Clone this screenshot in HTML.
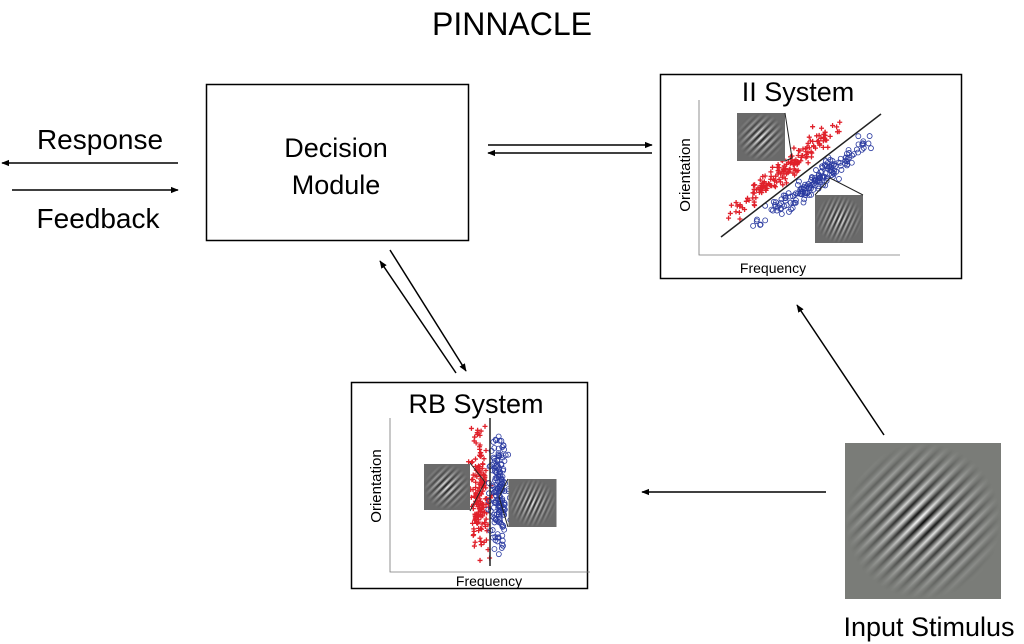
<!DOCTYPE html>
<html><head><meta charset="utf-8"><style>
html,body{margin:0;padding:0;background:#fff;}
svg{display:block;font-family:"Liberation Sans",Arial,sans-serif;}
</style></head><body>
<svg id="s" width="1024" height="644" viewBox="0 0 1024 644" xmlns="http://www.w3.org/2000/svg">
<defs>
<marker id="ah" viewBox="0 0 10 10" refX="9" refY="5" markerWidth="8" markerHeight="8" orient="auto-start-reverse" markerUnits="userSpaceOnUse">
<path d="M0,1 L10,5 L0,9 Z" fill="#000"/></marker>
<linearGradient id="lg" x1="0" y1="0" x2="1" y2="0">
<stop offset="0" stop-color="#000"/><stop offset="0.5" stop-color="#fff"/><stop offset="1" stop-color="#000"/></linearGradient>
<pattern id="st1" patternUnits="userSpaceOnUse" width="6.5" height="100" patternTransform="rotate(45)">
<rect width="6.5" height="100" fill="url(#lg)"/></pattern>
<pattern id="st2" patternUnits="userSpaceOnUse" width="11" height="100" patternTransform="rotate(45)">
<rect width="11" height="100" fill="url(#lg)"/></pattern>
<pattern id="st3" patternUnits="userSpaceOnUse" width="9" height="100" patternTransform="rotate(25)">
<rect width="9" height="100" fill="url(#lg)"/></pattern>
<radialGradient id="rg"><stop offset="0" stop-color="#fff" stop-opacity="1"/><stop offset="0.5" stop-color="#fff" stop-opacity="0.45"/><stop offset="1" stop-color="#fff" stop-opacity="0"/></radialGradient>
<mask id="gm" maskUnits="userSpaceOnUse" x="0" y="0" width="100" height="100"><rect width="100" height="100" fill="url(#rg)"/></mask>
<symbol id="g1" viewBox="0 0 100 100"><rect width="100" height="100" fill="#7a7c78"/><rect width="100" height="100" fill="url(#st1)" mask="url(#gm)"/></symbol>
<symbol id="g2" viewBox="0 0 100 100"><rect width="100" height="100" fill="#6a6a6a"/><rect width="100" height="100" fill="url(#st2)" mask="url(#gm)"/></symbol>
<symbol id="g3" viewBox="0 0 100 100"><rect width="100" height="100" fill="#6a6a6a"/><rect width="100" height="100" fill="url(#st3)" mask="url(#gm)"/></symbol>
</defs>

<text x="512" y="35" font-size="32" text-anchor="middle">PINNACLE</text>

<rect x="206.5" y="84.5" width="262" height="156" fill="none" stroke="#000" stroke-width="1.5"/>
<text x="336" y="157" font-size="27" text-anchor="middle">Decision</text>
<text x="336" y="194" font-size="27" text-anchor="middle">Module</text>

<text x="100" y="149" font-size="28" text-anchor="middle">Response</text>
<text x="98" y="228" font-size="28" text-anchor="middle">Feedback</text>
<g stroke="#000" stroke-width="1.5" fill="none">
<line x1="178" y1="163" x2="2" y2="163" marker-end="url(#ah)"/>
<line x1="12" y1="190" x2="178" y2="190" marker-end="url(#ah)"/>
<line x1="488" y1="145" x2="652" y2="145" marker-end="url(#ah)"/>
<line x1="652" y1="153" x2="488" y2="153" marker-end="url(#ah)"/>
<line x1="390" y1="250" x2="466" y2="371" marker-end="url(#ah)"/>
<line x1="456" y1="373" x2="380" y2="261" marker-end="url(#ah)"/>
<line x1="884" y1="435" x2="797" y2="305" marker-end="url(#ah)"/>
<line x1="826" y1="492" x2="642" y2="492" marker-end="url(#ah)"/>
</g>

<!-- II system -->
<rect x="660.5" y="74.5" width="301" height="204" fill="#fff" stroke="#000" stroke-width="1.5"/>
<text x="798" y="101" font-size="27" text-anchor="middle">II System</text>
<g stroke="#777" stroke-width="0.8" fill="none">
<path d="M699,100 V255 H900"/>
</g>
<text x="773" y="273" font-size="14" text-anchor="middle">Frequency</text>
<text transform="translate(690,175) rotate(-90)" font-size="15" text-anchor="middle">Orientation</text>
<g id="iipts"></g>
<line x1="721" y1="237" x2="881" y2="114" stroke="#222" stroke-width="1.5"/>
<use href="#g2" x="737" y="113" width="48" height="48"/>
<path d="M785,113 L792,158 L785,161" fill="none" stroke="#222" stroke-width="1"/>
<use href="#g3" x="815" y="195" width="48" height="48"/>
<path d="M815,195 L830,178 L863,195" fill="none" stroke="#222" stroke-width="1"/>

<!-- RB system -->
<rect x="351.5" y="382.5" width="236" height="206" fill="#fff" stroke="#000" stroke-width="1.5"/>
<text x="476" y="413" font-size="27" text-anchor="middle">RB System</text>
<g stroke="#777" stroke-width="0.8" fill="none"><path d="M390,418 V572 H590"/></g>
<text x="489" y="586" font-size="14" text-anchor="middle">Frequency</text>
<text transform="translate(381,486) rotate(-90)" font-size="15" text-anchor="middle">Orientation</text>
<g id="rbpts"></g>
<line x1="490" y1="418" x2="490" y2="566" stroke="#222" stroke-width="1.5"/>
<use href="#g2" x="424" y="463" width="46" height="48"/>
<path d="M470,463 L485,482 L470,511" fill="none" stroke="#222" stroke-width="1"/>
<use href="#g3" x="508" y="479" width="49" height="48"/>
<path d="M508,479 L499,497 L508,527" fill="none" stroke="#222" stroke-width="1"/>

<!-- stimulus -->
<use href="#g1" x="845" y="443" width="156" height="156"/>
<text x="929" y="636" font-size="27" text-anchor="middle">Input Stimulus</text>
</svg>
<script>
(function(){
var s=7;function r(){s=(s*16807)%2147483647;return s/2147483647;}
function g(){return (r()+r()+r()-1.5)*1.3;}
var ns="http://www.w3.org/2000/svg";
function cross(p,x,y){var e=document.createElementNS(ns,"path");e.setAttribute("d","M"+(x-2.5)+","+y+"h5M"+x+","+(y-2.5)+"v5");e.setAttribute("stroke","#e0202a");e.setAttribute("stroke-width","1.3");p.appendChild(e);}
function circ(p,x,y){var e=document.createElementNS(ns,"circle");e.setAttribute("cx",x);e.setAttribute("cy",y);e.setAttribute("r","2.5");e.setAttribute("fill","none");e.setAttribute("stroke","#2a3aa0");e.setAttribute("stroke-width","0.8");p.appendChild(e);}
var ii=document.getElementById("iipts"),rb=document.getElementById("rbpts");
for(var i=0;i<170;i++){var t=r()*0.5+r()*0.5;var x=725+t*120,y=218-t*98;x+=g()*6;y+=g()*7;cross(ii,x,y);}
for(var i=0;i<170;i++){var t=r()*0.5+r()*0.5;var x=752+t*125,y=228-t*93;x+=g()*6;y+=g()*7;circ(ii,x,y);}
for(var i=0;i<170;i++){var y=420+(r()*0.5+r()*0.5)*145;var x=480+g()*7;cross(rb,x,y);}
for(var i=0;i<170;i++){var y=420+(r()*0.5+r()*0.5)*140;var x=499+g()*7;circ(rb,x,y);}
})();
</script>
</body></html>
